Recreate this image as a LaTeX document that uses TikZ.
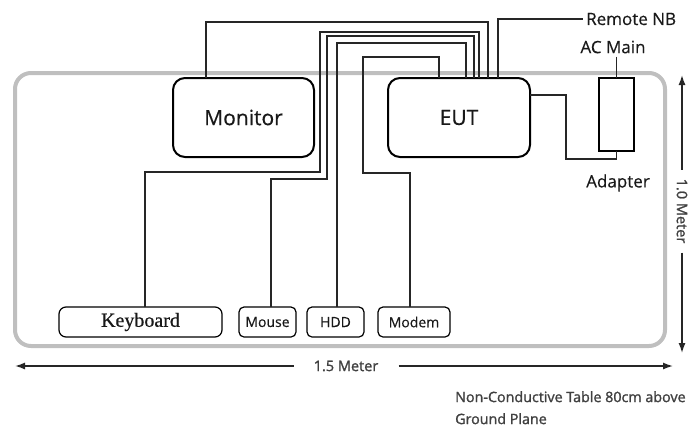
\documentclass[tikz,border=0pt]{standalone}
\usepackage{fontspec}
\newfontfamily\osans{Open Sans}[FakeBold=0.4]
\newfontfamily\osemi{Open Sans}[FakeBold=1.4]
\newfontfamily\kserif{Liberation Serif}[FakeBold=0.6]
\usetikzlibrary{arrows.meta}
\begin{document}
\begin{tikzpicture}[x=1pt,y=-1pt,
  wire/.style={line width=1.2pt,black!85},
  bigbox/.style={draw,line width=2pt,rounded corners=12pt,fill=white,inner sep=0pt,outer sep=0pt,
    font=\osans\fontsize{21}{24}\selectfont,text=black!90},
  smallbox/.style={draw,line width=1.2pt,rounded corners=5pt,fill=white,inner sep=0pt,outer sep=0pt,
    minimum height=30pt,font=\osans\fontsize{14}{16}\selectfont,text=black!90},
  lbl/.style={font=\osans\fontsize{17}{20}\selectfont,text=black!90,inner sep=0pt},
  dim/.style={line width=1.4pt,black!85},
  tip/.style={-{Latex[length=10pt,width=7pt]}},
  dimtext/.style={font=\osemi\fontsize{14.5}{16}\selectfont,text=black!75,inner sep=0pt}
]
\useasboundingbox (0,0) rectangle (696,429);
% table
\draw[black!25,line width=4pt,rounded corners=16pt] (15,73) rectangle (665,346);

% main units
\node[bigbox,minimum width=141pt,minimum height=79pt] (mon) at (243.5,117.5) {Monitor};
\node[bigbox,minimum width=142pt,minimum height=79pt] (eut) at (459,117.5) {EUT};
\node[draw,line width=1.2pt,fill=white,inner sep=0pt,outer sep=0pt,minimum width=35pt,minimum height=73pt] (adapter) at (616.5,114.5) {};

% peripherals
\node[smallbox,rounded corners=7pt,minimum width=163pt,font=\kserif\fontsize{20}{22}\selectfont] (kbd) at (140.5,322) {Keyboard};
\node[smallbox,minimum width=57pt] (mouse) at (267.5,322) {Mouse};
\node[smallbox,minimum width=57pt] (hdd) at (335.5,322) {HDD};
\node[smallbox,minimum width=72pt] (modem) at (414,322) {Modem};

% labels
\node[lbl,anchor=west,inner xsep=3pt] (remote) at (583,19) {Remote NB};
\node[lbl,inner ysep=3pt] (acmain) at (613,47) {AC Main};
\node[lbl] (adlabel) at (618,183) {Adapter};

% cables
\draw[wire] (kbd.north -| 145,0) -- (145,172) -- (320,172) -- (320,32) -- (479,32) -- (eut.north -| 479,0);
\draw[wire] (mouse.north -| 271,0) -- (271,179) -- (327,179) -- (327,36) -- (474,36) -- (eut.north -| 474,0);
\draw[wire] (hdd.north -| 337,0) -- (337,43) -- (466,43) -- (eut.north -| 466,0);
\draw[wire] (modem.north -| 410,0) -- (410,173) -- (363,173) -- (363,57) -- (439,57) -- (eut.north -| 439,0);
\draw[wire] (mon.north -| 206,0) -- (206,22) -- (488,22) -- (eut.north -| 488,0);
\draw[wire] (eut.north -| 498,0) -- (498,19) -- (remote.west);
\draw[wire] (acmain.south -| adapter.north) -- (adapter.north);
\draw[wire] (eut.east |- 0,95) -- (566,95) -- (566,159) -- (adapter.south |- 0,159) -- (adapter.south);

% dimensions
\node[dimtext,inner xsep=20pt] (w15) at (346,366) {1.5 Meter};
\coordinate (wl) at (15,366);
\coordinate (wr) at (673,366);
\draw[dim,tip] (w15.west) -- (wl);
\draw[dim,tip] (w15.east) -- (wr);
\node[dimtext,rotate=-90,inner xsep=9pt] (h10) at (682,211) {1.0 Meter};
\coordinate (ht) at (682,75);
\coordinate (hb) at (682,353);
\draw[dim,tip] (h10.west) -- (ht);
\draw[dim,tip] (h10.east) -- (hb);

% note
\node[dimtext,anchor=north west,align=left,font=\osemi\fontsize{14.3}{22}\selectfont] (note) at (455,391) {Non-Conductive Table 80cm above\\Ground Plane};
\end{tikzpicture}
\end{document}
